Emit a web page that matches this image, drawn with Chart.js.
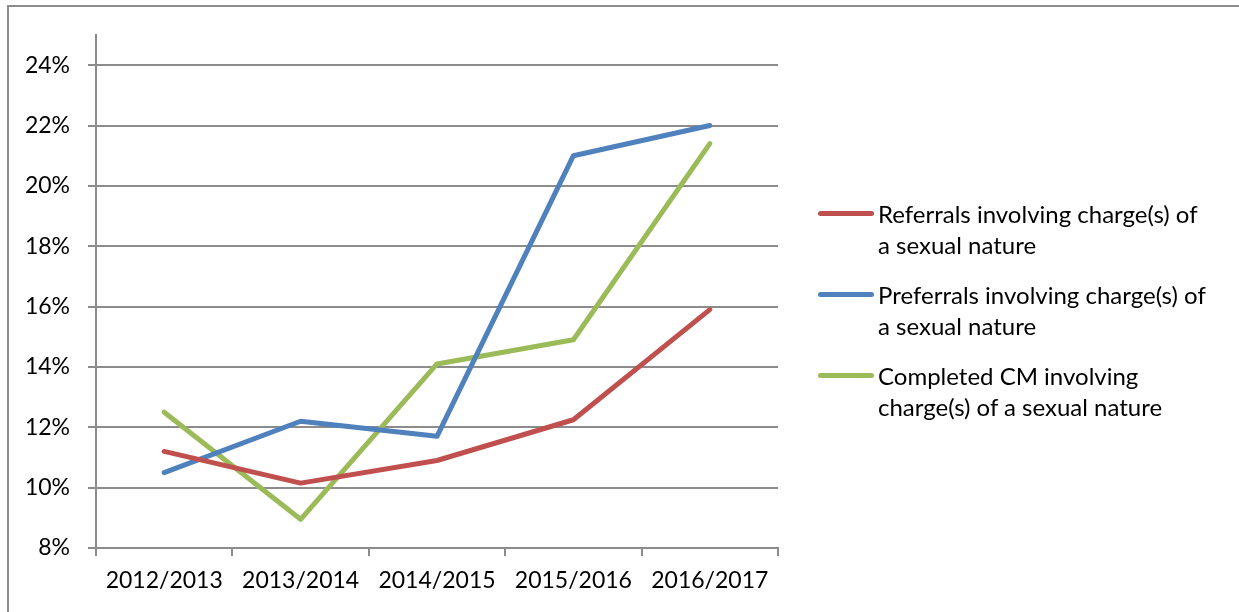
<!DOCTYPE html>
<html>
<head>
<meta charset="utf-8">
<script src="https://cdn.jsdelivr.net/npm/chart.js@4/dist/chart.umd.min.js"></script>
<style>
  html, body { margin: 0; padding: 0; background: #fff; }
  #wrap { position: relative; width: 1239px; height: 612px; overflow: hidden; }
  #frame { position: absolute; left: 7px; top: 5px; width: 1300px; height: 700px;
           border-left: 2px solid #8c8c8c; border-top: 2px solid #8c8c8c; }
  #c { position: absolute; left: 0; top: 0; }
  #legend { position: absolute; left: 818px; top: 198px; font-family: Lato, sans-serif;
            font-size: 24px; color: #000; }
  .item { position: relative; padding-left: 60px; line-height: 31px; height: 81px; }
  .item span.sw { position: absolute; left: 0; top: 13px; width: 56px; height: 5px; border-radius: 3px; }
</style>
</head>
<body>
<div id="wrap">
  <div id="frame"></div>
  <canvas id="c" width="1239" height="612"></canvas>
  <div id="legend"></div>
</div>
<script>
var years = ["2012/2013", "2013/2014", "2014/2015", "2015/2016", "2016/2017"];
var referrals = [11.2, 10.15, 10.9, 12.25, 15.9];
var preferrals = [10.5, 12.2, 11.7, 21.0, 22.0];
var completed = [12.5, 8.95, 14.1, 14.9, 21.4];
var seriesNames = [
  ["Referrals involving charge(s) of", "a sexual nature"],
  ["Preferrals involving charge(s) of", "a sexual nature"],
  ["Completed CM involving", "charge(s) of a sexual nature"]
];
var colors = ["#C0504D", "#4F81BD", "#9BBB59"];

document.addEventListener("DOMContentLoaded", function(event) {
  var ctx = document.getElementById("c").getContext("2d");
  var font = { family: "Lato, sans-serif", size: 23 };
  var myChart = new Chart(ctx, {
    type: "line",
    data: {
      labels: years,
      datasets: [
        { label: seriesNames[0].join(" "), data: referrals, borderColor: colors[0] },
        { label: seriesNames[1].join(" "), data: preferrals, borderColor: colors[1] },
        { label: seriesNames[2].join(" "), data: completed, borderColor: colors[2] }
      ]
    },
    options: {
      responsive: false,
      animation: false,
      layout: { padding: { left: 0, right: 461, top: 35, bottom: 0 } },
      elements: {
        line: { borderWidth: 5, tension: 0, fill: false, borderCapStyle: "round", borderJoinStyle: "round" },
        point: { radius: 0 }
      },
      plugins: { legend: { display: false }, tooltip: { enabled: false } },
      scales: {
        x: {
          offset: true,
          grid: { offset: true, drawOnChartArea: false, color: "#8c8c8c", lineWidth: 2, tickLength: 8 },
          border: { color: "#8c8c8c", width: 2 },
          ticks: { color: "#000", font: font, padding: 11, maxRotation: 0 },
          afterFit: function(s) { s.height = 64; }
        },
        y: {
          min: 8,
          max: 25,
          grid: { color: "#8c8c8c", lineWidth: 2, tickLength: 8 },
          border: { color: "#8c8c8c", width: 2 },
          ticks: {
            stepSize: 2,
            includeBounds: false,
            color: "#000",
            font: font,
            padding: 18,
            callback: function(v) { return v + "%"; }
          },
          afterFit: function(s) { s.width = 96; }
        }
      }
    }
  });

  var legend = document.getElementById("legend");
  myChart.data.datasets.forEach(function(ds, i) {
    var div = document.createElement("div");
    div.className = "item";
    div.innerHTML = '<span class="sw" style="background:' + ds.borderColor + '"></span>' +
      seriesNames[i][0] + "<br>" + seriesNames[i][1];
    legend.appendChild(div);
  });
});
</script>
</body>
</html>
